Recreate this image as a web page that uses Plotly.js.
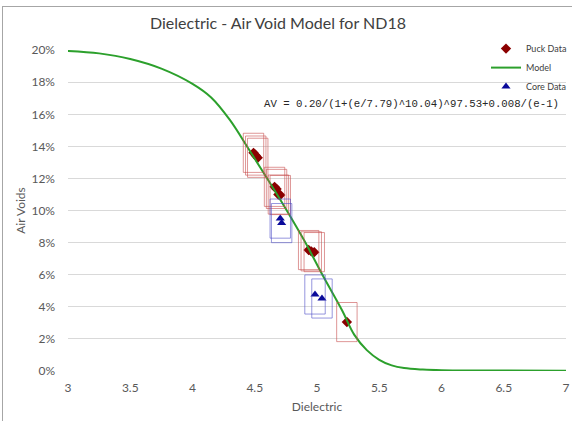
<!DOCTYPE html>
<html>
<head>
<meta charset="utf-8">
<script src="https://cdn.plot.ly/plotly-3.0.1.min.js"></script>
<style>
  html, body { margin: 0; padding: 0; background: #fff; }
  #frame { position: absolute; left: 2px; top: 6px; width: 620px; height: 460px; border: 1px solid #a6a6a6; }
  #chart { position: absolute; left: 0; top: 0; width: 572px; height: 421px; }
</style>
</head>
<body>
<div id="frame"></div>
<div id="chart"></div>
<script>
// Puck (laboratory) measurements: dielectric vs. air voids
const puckDielectric = [4.490, 4.508, 4.524, 4.659, 4.675, 4.690, 4.705, 4.933, 4.954, 4.978, 5.240];
const puckAirVoids   = [0.1360, 0.1343, 0.1329, 0.1148, 0.1135, 0.1100, 0.1097, 0.0754, 0.0746, 0.0741, 0.0305];

// Field core measurements
const coreDielectric = [4.705, 4.716, 4.984, 5.040];
const coreAirVoids   = [0.0950, 0.0922, 0.0477, 0.0452];

// Fitted model curve
const modelDielectric = [3.0, 3.25, 3.5, 3.75, 4.0, 4.15, 4.3, 4.45, 4.6, 4.75, 4.9, 5.05, 5.2, 5.3, 5.4, 5.5, 5.6, 5.7, 5.85, 6.0, 6.5, 7.0];
const modelAirVoids   = [0.1995, 0.1980, 0.1945, 0.1885, 0.1790, 0.1705, 0.1565, 0.1385, 0.1200, 0.1010, 0.0810, 0.0590, 0.0380, 0.0225, 0.0130, 0.0070, 0.0035, 0.0018, 0.0009, 0.0005, 0.0003, 0.0002];

// Measurement uncertainty drawn as boxes around each point
const dielectricTolerance = 0.082;
const airVoidTolerance = 0.0122;

const xTicks = [3, 3.5, 4, 4.5, 5, 5.5, 6, 6.5, 7];
const xTickText = ['3', '3.5', '4', '4.5', '5', '5.5', '6', '6.5', '7'];
const yTicks = [0, 0.02, 0.04, 0.06, 0.08, 0.10, 0.12, 0.14, 0.16, 0.18, 0.20];

const equationText = 'AV = 0.20/(1+(e/7.79)^10.04)^97.53+0.008/(e-1)';

const FONT = 'Lato, "Open Sans", "Liberation Sans", sans-serif';

function boxes(xs, ys, color) {
  return xs.map((x, i) => ({
    type: 'rect', xref: 'x', yref: 'y', layer: 'above',
    x0: x - dielectricTolerance, x1: x + dielectricTolerance,
    y0: ys[i] - airVoidTolerance, y1: ys[i] + airVoidTolerance,
    line: { color: color, width: 1 }, fillcolor: 'rgba(0,0,0,0)'
  }));
}

const traces = [
  {
    type: 'scatter', mode: 'markers', name: 'Puck Data',
    x: puckDielectric, y: puckAirVoids,
    marker: { symbol: 'diamond', size: 8, color: '#8b0000' }
  },
  {
    type: 'scatter', mode: 'lines', name: 'Model',
    x: modelDielectric, y: modelAirVoids,
    line: { color: '#2ca02c', width: 2, shape: 'spline', smoothing: 1 },
    cliponaxis: false
  },
  {
    type: 'scatter', mode: 'markers', name: 'Core Data',
    x: coreDielectric, y: coreAirVoids,
    marker: { symbol: 'triangle-up', size: 8, color: '#0a0a9a' }
  }
];

const layout = {
  width: 572, height: 421,
  margin: { l: 68, r: 6, t: 50, b: 50, autoexpand: false },
  paper_bgcolor: 'rgba(0,0,0,0)',
  plot_bgcolor: 'rgba(0,0,0,0)',
  font: { family: FONT, color: '#595959', size: 12 },
  title: {
    text: 'Dielectric - Air Void Model for ND18',
    font: { family: FONT, size: 16, color: '#404040' },
    x: 0.486, xanchor: 'center', y: 0.945, yanchor: 'middle'
  },
  xaxis: {
    range: [3, 7], tickvals: xTicks, ticktext: xTickText,
    showgrid: false, zeroline: false, showline: false, ticks: '',
    ticklabelstandoff: 8,
    tickfont: { size: 12, color: '#595959' },
    title: { text: 'Dielectric', font: { size: 12, color: '#595959' }, standoff: 8 }
  },
  yaxis: {
    range: [0, 0.2001], tickvals: yTicks, tickformat: '.0%',
    showgrid: true, gridcolor: '#d9d9d9', gridwidth: 1,
    zeroline: false, showline: false, ticks: '',
    ticklabelstandoff: 12,
    tickfont: { size: 12, color: '#595959' },
    title: { text: 'Air Voids', font: { size: 12, color: '#595959' }, standoff: 3 }
  },
  showlegend: true,
  legend: {
    xref: 'container', yref: 'container',
    x: 1.007, xanchor: 'right', y: 0.919, yanchor: 'top',
    bgcolor: 'rgba(0,0,0,0)',
    font: { size: 9, color: '#404040' },
    itemwidth: 30
  },
  shapes: boxes(puckDielectric, puckAirVoids, 'rgba(200,80,80,0.6)')
    .concat(boxes(coreDielectric, coreAirVoids, 'rgba(80,80,200,0.6)')),
  annotations: [{
    text: equationText, xref: 'x', yref: 'y', x: 5.76, y: 0.1664,
    xanchor: 'center', yanchor: 'middle', showarrow: false,
    font: { family: '"Liberation Mono", "DejaVu Sans Mono", monospace', size: 10.7, color: '#262626' }
  }]
};

Plotly.newPlot('chart', traces, layout, { displayModeBar: false, staticPlot: true });
</script>
</body>
</html>
